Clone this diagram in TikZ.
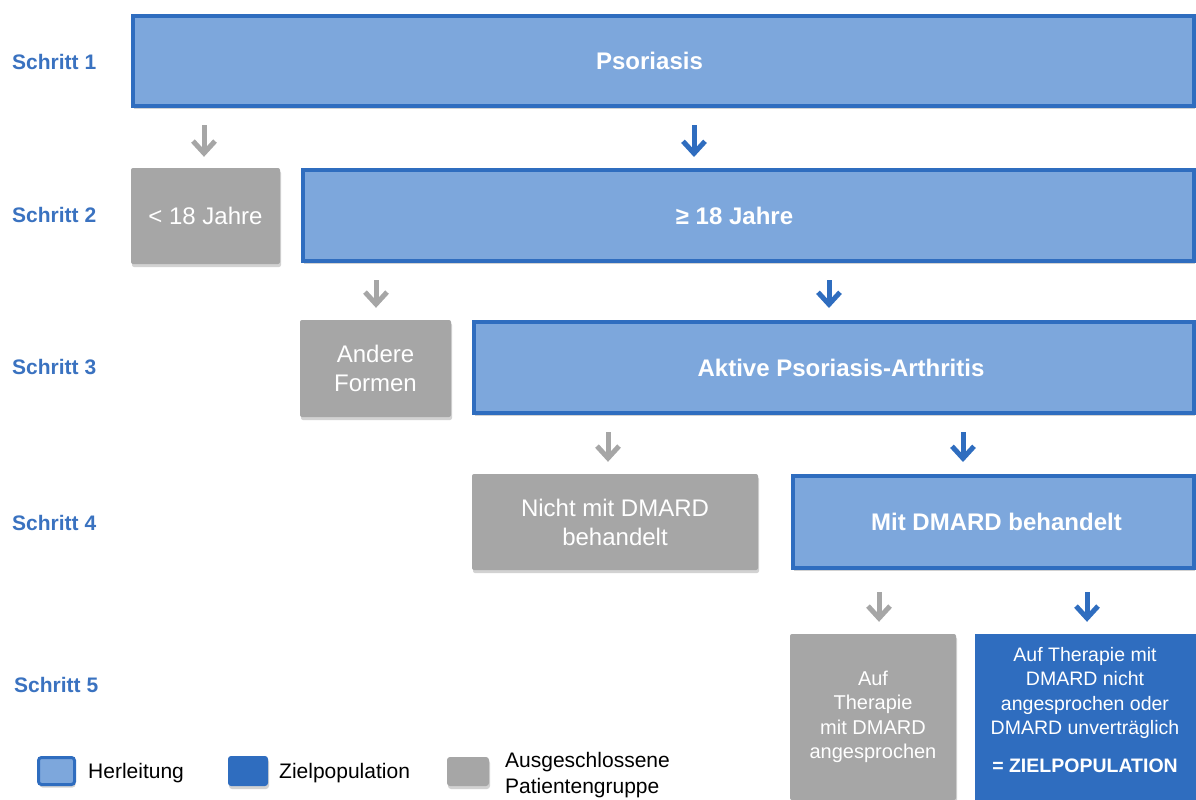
\documentclass[tikz,border=0pt]{standalone}
\usepackage{fontspec}
\setmainfont{Liberation Sans}
\usetikzlibrary{arrows.meta,shadows}
\definecolor{lblue}{HTML}{7DA7DC}
\definecolor{dblue}{HTML}{2F6DBF}
\definecolor{gbox}{HTML}{A6A6A6}
\definecolor{stepc}{HTML}{3A72C0}
\begin{document}
\begin{tikzpicture}[x=1pt,y=-1pt,
  shd/.style={drop shadow={shadow xshift=1pt,shadow yshift=-3pt,opacity=.25,fill=black!70}},
  herl/.style={draw=dblue, fill=lblue, line width=4pt, inner sep=0pt, text=white,
    font=\bfseries\fontsize{24}{29}\selectfont, shd},
  excl/.style={fill=gbox, rounded corners=2pt, inner sep=0pt, text=white, align=center,
    font=\fontsize{24}{29}\selectfont, shd},
  zielbox/.style={fill=dblue, inner sep=0pt, shd},
  steplabel/.style={anchor=west, inner sep=0pt, text=stepc, font=\bfseries\fontsize{21}{25}\selectfont},
  legtext/.style={anchor=west, inner sep=0pt, align=left, font=\fontsize{21}{26}\selectfont},
  garr/.style={draw=gbox, line width=5pt, -{Straight Barb[length=12pt,width=22pt,line width=5pt]}},
  barr/.style={draw=dblue, line width=5pt, -{Straight Barb[length=12pt,width=22pt,line width=5pt]}}
]
\useasboundingbox (0,0) rectangle (1196,800);
\clip (0,0) rectangle (1196,800);

% step labels
\node[steplabel] (s1) at (12,62) {Schritt 1};
\node[steplabel] (s2) at (12,215) {Schritt 2};
\node[steplabel] (s3) at (12,367) {Schritt 3};
\node[steplabel] (s4) at (12,523) {Schritt 4};
\node[steplabel] (s5) at (14,685) {Schritt 5};

% boxes
\node[herl, minimum width=1061pt, minimum height=90pt] (psor) at (663.5,61) {\hspace*{-28pt}\raisebox{-1pt}{Psoriasis}};
\node[excl, minimum width=149pt, minimum height=96pt] (lt) at (205.5,216) {< 18 Jahre};
\node[herl, minimum width=891pt, minimum height=91pt] (ge) at (748.5,215.5) {\hspace*{-28pt}≥ 18 Jahre};
\node[excl, minimum width=151pt, minimum height=97pt] (andere) at (375.5,368.5) {Andere\\Formen};
\node[herl, minimum width=720pt, minimum height=91pt] (akt) at (834,367.5) {\hspace*{14pt}Aktive Psoriasis-Arthritis};
\node[excl, minimum width=286pt, minimum height=96pt] (nicht) at (615,522) {Nicht mit DMARD\\behandelt};
\node[herl, minimum width=401pt, minimum height=92pt] (mit) at (993.5,522) {\hspace*{6pt}Mit DMARD behandelt};
\node[excl, minimum width=166pt, minimum height=166pt, font=\fontsize{20}{24.5}\selectfont] (auf) at (873,717) {Auf\\Therapie\\mit DMARD\\angesprochen};
\node[zielbox, minimum width=221pt, minimum height=170pt] (ziel) at (1085.5,719) {};
\node[inner sep=0pt, text=white, align=center, font=\fontsize{19.5}{24.5}\selectfont] (zieltext) at (1085,710)
  {Auf Therapie mit\\DMARD nicht\\angesprochen oder\\DMARD unverträglich\\[13pt]\textbf{= ZIELPOPULATION}};

% arrow positions
\coordinate (a1g) at (204,0);
\coordinate (a1b) at (694,0);
\coordinate (a2g) at (376,0);
\coordinate (a2b) at (829,0);
\coordinate (a3g) at (608,0);
\coordinate (a3b) at (963,0);
\coordinate (a4g) at (879,0);
\coordinate (a4b) at (1087,0);

\draw[garr, shorten <=17pt, shorten >=11pt] (psor.south -| a1g) -- (lt.north -| a1g);
\draw[barr, shorten <=17pt, shorten >=11pt] (psor.south -| a1b) -- (ge.north -| a1b);
\draw[garr, shorten <=17pt, shorten >=12pt] (ge.south -| a2g) -- (andere.north -| a2g);
\draw[barr, shorten <=17pt, shorten >=12pt] (ge.south -| a2b) -- (akt.north -| a2b);
\draw[garr, shorten <=17pt, shorten >=12pt] (akt.south -| a3g) -- (nicht.north -| a3g);
\draw[barr, shorten <=17pt, shorten >=12pt] (akt.south -| a3b) -- (mit.north -| a3b);
\draw[garr, shorten <=22pt, shorten >=12pt] (mit.south -| a4g) -- (auf.north -| a4g);
\draw[barr, shorten <=22pt, shorten >=12pt] (mit.south -| a4b) -- (ziel.north -| a4b);

% legend
\node[draw=dblue, fill=lblue, line width=3pt, rounded corners=3pt, minimum width=36pt, minimum height=27pt, inner sep=0pt, shd] (lg1) at (56.5,771) {};
\node[legtext] (lt1) at (88,773) {Herleitung};
\node[fill=dblue, rounded corners=3pt, minimum width=40pt, minimum height=30pt, inner sep=0pt, shd] (lg2) at (248,771) {};
\node[legtext] (lt2) at (279,773) {Zielpopulation};
\node[fill=gbox, rounded corners=3pt, minimum width=42pt, minimum height=29pt, inner sep=0pt, shd] (lg3) at (468,771.5) {};
\node[legtext] (lt3) at (505,775) {Ausgeschlossene\\Patientengruppe};
\end{tikzpicture}
\end{document}
